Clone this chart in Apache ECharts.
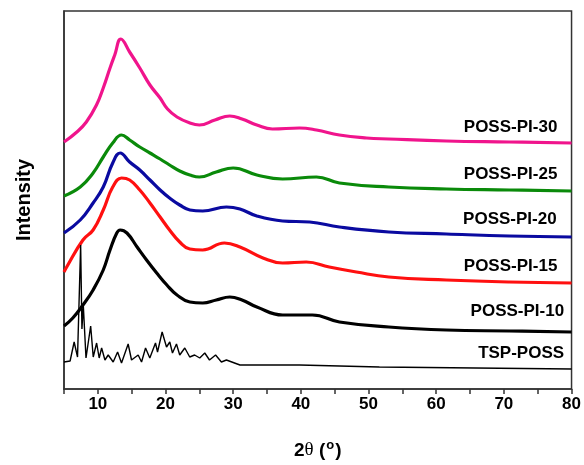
<!DOCTYPE html>
<html>
<head>
<meta charset="utf-8">
<script src="https://cdn.jsdelivr.net/npm/echarts@6/dist/echarts.min.js"></script>
<style>
  html, body { margin: 0; padding: 0; background: #fff; }
  #chart { width: 584px; height: 465px; }
</style>
</head>
<body>
<div id="chart"></div>
<script>
// XRD patterns: [2θ (deg), intensity (a.u., curves stacked with offsets)]
const possPi30 = [
  [5.0, 247], [6.9, 257], [8.3, 267], [9.8, 284], [10.8, 301], [11.8, 321],
  [12.5, 334], [13.4, 350], [14.7, 337], [16.2, 321], [17.7, 304], [19.2, 291],
  [20.3, 280], [21.7, 272], [23.6, 266], [25.0, 264], [27.3, 269], [29.5, 273],
  [31.3, 270], [33.5, 264], [35.8, 260], [39.8, 261], [42.3, 259], [45.7, 254],
  [49.7, 251], [53.0, 250], [61.5, 248], [70.8, 247], [80.0, 246]
];
const possPi25 = [
  [5.0, 193], [7.4, 202], [9.3, 216], [10.8, 232], [12.2, 246], [13.5, 254],
  [14.7, 249], [16.2, 242], [17.7, 236], [19.2, 230], [20.6, 224], [22.1, 218],
  [23.6, 214], [25.0, 212], [27.5, 217], [30.0, 221], [33.5, 214], [37.3, 210],
  [42.3, 212], [45.7, 206], [53.0, 202], [61.5, 200], [70.8, 199], [80.0, 198]
];
const possPi20 = [
  [5.0, 156], [7.4, 169], [9.3, 186], [10.8, 202], [12.2, 226], [13.3, 236],
  [14.7, 227], [16.2, 219], [17.7, 209], [19.2, 199], [20.6, 191], [22.1, 184],
  [23.6, 179], [25.5, 178], [29.0, 182], [31.0, 180], [33.5, 173], [37.3, 168],
  [41.3, 167], [45.7, 162], [53.0, 157], [61.5, 155], [70.8, 153], [80.0, 152]
];
const possPi15 = [
  [5.0, 117], [5.4, 122], [7.8, 149], [9.3, 159], [10.8, 179], [12.2, 202],
  [13.5, 211], [14.7, 209], [16.2, 199], [17.7, 186], [19.2, 172], [20.6, 159],
  [22.1, 147], [23.6, 140], [25.5, 139], [28.7, 146], [31.0, 142], [34.4, 131],
  [37.3, 126], [40.8, 127], [44.2, 122], [48.2, 117], [53.0, 112], [61.5, 109],
  [70.8, 107], [80.0, 106]
];
const possPi10 = [
  [5.0, 63], [6.3, 71], [7.8, 84], [9.3, 99], [10.8, 119], [11.8, 139],
  [12.8, 156], [13.3, 159], [14.3, 156], [15.8, 142], [17.2, 129], [18.7, 116],
  [20.2, 104], [21.7, 94], [23.6, 87], [25.5, 86], [27.5, 89], [29.5, 92],
  [31.3, 89], [33.5, 82], [37.3, 74], [41.7, 74], [45.7, 67], [53.0, 62],
  [61.5, 59], [70.8, 58], [80.0, 57]
];
const tspPoss = [
  [5.0, 27], [5.9, 28], [6.5, 47], [7.0, 32], [7.46, 144], [7.65, 60],
  [7.85, 84], [8.25, 31], [8.94, 63], [9.32, 32], [9.82, 46], [10.2, 31],
  [10.56, 41], [11.05, 29], [11.53, 34], [12.27, 27], [12.92, 37], [13.5, 26],
  [14.48, 45], [14.98, 29], [15.96, 34], [16.46, 27], [17.05, 41], [17.68, 31],
  [18.52, 46], [18.82, 37], [19.5, 57], [20.15, 42], [20.63, 47], [21.03, 36],
  [21.62, 45], [22.1, 34], [22.85, 41], [23.58, 32], [24.3, 34], [25.06, 31],
  [25.8, 36], [26.5, 29], [27.4, 34], [28.26, 27], [29.0, 29], [31.0, 24],
  [39.8, 24], [51.6, 22], [80.0, 20]
];

const sampleNames = ['POSS-PI-30', 'POSS-PI-25', 'POSS-PI-20', 'POSS-PI-15', 'POSS-PI-10', 'TSP-POSS'];
const sampleData = [possPi30, possPi25, possPi20, possPi15, possPi10, tspPoss];
const sampleColors = ['#f0148c', '#0a8a0a', '#0a0aa0', '#ff1010', '#000000', '#000000'];
// right-aligned name tags, in data coordinates
const tagAnchors = [[77.9, 262], [77.9, 215], [77.8, 170], [77.9, 123], [78.9, 78], [78.9, 36]];

const FONT = 'Liberation Sans, Arial, sans-serif';
const chart = echarts.init(document.getElementById('chart'), null, { renderer: 'canvas' });

const series = sampleData.map((d, i) => ({
  name: sampleNames[i],
  type: 'line',
  data: d,
  showSymbol: false,
  smooth: i === 5 ? false : 0.45,
  lineStyle: { color: sampleColors[i], width: i === 5 ? 1.4 : 3.2 },
  z: 2 + i,
  animation: false
}));

chart.setOption({
  animation: false,
  backgroundColor: '#fff',
  grid: {
    left: 64, right: 11, top: 11, bottom: 76,
    show: true, borderColor: '#333', borderWidth: 1.5, backgroundColor: 'transparent'
  },
  xAxis: {
    type: 'value', min: 5, max: 80, interval: 5,
    axisLine: { show: true, lineStyle: { color: '#333', width: 1.5 } },
    axisTick: { show: true, inside: false, length: 5, lineStyle: { color: '#333', width: 1.5 } },
    axisLabel: {
      margin: 7, color: '#000', fontFamily: FONT, fontWeight: 'bold', fontSize: 17,
      showMinLabel: true, showMaxLabel: true,
      formatter: v => (v % 10 === 0 ? String(v) : '')
    },
    splitLine: { show: false },
    name: '{b|2}{t|θ}{b| (}{s|o}{b|)}',
    nameLocation: 'middle', nameGap: 50,
    nameTextStyle: {
      rich: {
        b: { fontFamily: FONT, fontWeight: 'bold', fontSize: 19, color: '#000' },
        t: { fontFamily: 'Liberation Serif, serif', fontSize: 19, color: '#000' },
        s: { fontFamily: FONT, fontWeight: 'bold', fontSize: 13, color: '#000', verticalAlign: 'top', padding: [0, 1, 10, 1] }
      }
    }
  },
  yAxis: {
    type: 'value', min: 0, max: 378,
    axisLine: { show: true, lineStyle: { color: '#333', width: 1.5 } },
    axisTick: { show: false },
    axisLabel: { show: false },
    splitLine: { show: false },
    name: 'Intensity', nameLocation: 'middle', nameGap: 30, nameRotate: 90,
    nameTextStyle: { fontFamily: FONT, fontWeight: 'bold', fontSize: 20, color: '#000' }
  },
  series: series
});

// place sample names using the axes' own scales
const tags = tagAnchors.map((a, i) => {
  const p = chart.convertToPixel({ gridIndex: 0 }, a);
  return {
    type: 'text', x: p[0], y: p[1], z: 100,
    style: {
      text: sampleNames[i], fill: '#000',
      font: 'bold 17px ' + FONT,
      textAlign: 'right', textVerticalAlign: 'middle'
    }
  };
});
chart.setOption({ graphic: tags });
</script>
</body>
</html>
